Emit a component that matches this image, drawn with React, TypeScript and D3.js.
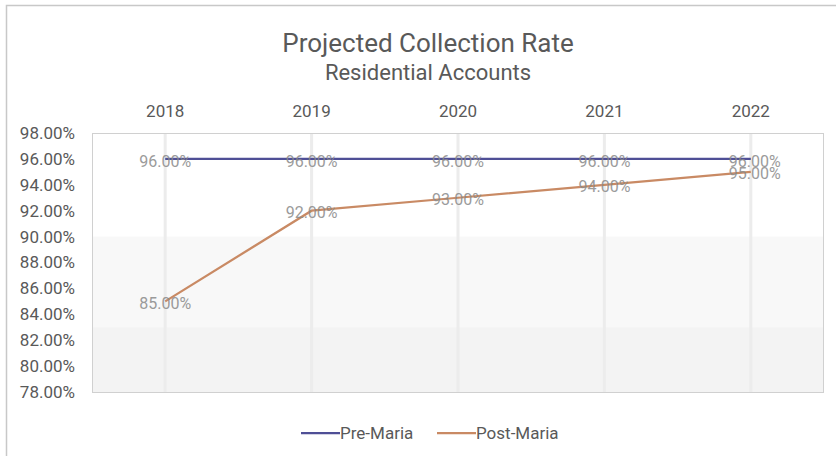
import React, { useEffect, useRef } from "react";
import * as d3 from "d3";

// chart values
const years = ["2018", "2019", "2020", "2021", "2022"];
const preMaria = [0.96, 0.96, 0.96, 0.96, 0.96];
const postMaria = [0.85, 0.92, 0.93, 0.94, 0.95];
const yTicks = [0.78, 0.8, 0.82, 0.84, 0.86, 0.88, 0.9, 0.92, 0.94, 0.96, 0.98];
const seriesNames = ["Pre-Maria", "Post-Maria"];
const seriesColors = ["#4f4f96", "#c98a64"];

const W = 836;
const H = 456;
const margin = { top: 133, right: 12, bottom: 64, left: 92 };
const FONT = "Roboto, 'Noto Sans', sans-serif";
const TEXT = "#595959";

function App() {
    const svgRef = useRef<SVGSVGElement | null>(null);

    useEffect(() => {
        const svg = d3.select(svgRef.current);
        svg.selectAll("*").remove();

        const x = d3
            .scaleBand()
            .domain(years)
            .range([margin.left, W - margin.right]);
        const cx = (d: string) => (x(d) as number) + x.bandwidth() / 2;

        const y = d3
            .scaleLinear()
            .domain([0.78, 0.98])
            .range([H - margin.bottom, margin.top]);

        const fmt = d3.format(".2%");

        // outer chart frame
        svg.append("rect")
            .attr("x", 6.5)
            .attr("y", 5.5)
            .attr("width", W + 10)
            .attr("height", H + 10)
            .attr("fill", "#ffffff")
            .attr("stroke", "#c8c8c8")
            .attr("stroke-width", 1.5);

        // plot area with the faint grey shading
        svg.append("rect")
            .attr("x", margin.left)
            .attr("y", y(0.9))
            .attr("width", W - margin.right - margin.left)
            .attr("height", y(0.78) - y(0.9))
            .attr("fill", "#f8f8f8");
        svg.append("rect")
            .attr("x", margin.left)
            .attr("y", y(0.83))
            .attr("width", W - margin.right - margin.left)
            .attr("height", y(0.78) - y(0.83))
            .attr("fill", "#f3f3f3");

        // faint vertical lines at categories
        svg.append("g")
            .selectAll("line")
            .data(years)
            .join("line")
            .attr("x1", (d) => cx(d))
            .attr("x2", (d) => cx(d))
            .attr("y1", y(0.98))
            .attr("y2", y(0.78))
            .attr("stroke", "#ececec")
            .attr("stroke-width", 3);

        svg.append("rect")
            .attr("x", margin.left + 0.5)
            .attr("y", y(0.98) + 0.5)
            .attr("width", W - margin.right - margin.left - 1)
            .attr("height", y(0.78) - y(0.98))
            .attr("fill", "none")
            .attr("stroke", "#d0d0d0")
            .attr("stroke-width", 1);

        // titles
        svg.append("text")
            .attr("x", 428)
            .attr("y", 52)
            .attr("text-anchor", "middle")
            .attr("font-family", FONT)
            .attr("font-size", 26)
            .attr("fill", TEXT)
            .text("Projected Collection Rate");
        svg.append("text")
            .attr("x", 428)
            .attr("y", 80)
            .attr("text-anchor", "middle")
            .attr("font-family", FONT)
            .attr("font-size", 22)
            .attr("fill", TEXT)
            .text("Residential Accounts");

        // category labels on top
        svg.append("g")
            .selectAll("text")
            .data(years)
            .join("text")
            .attr("x", (d) => cx(d))
            .attr("y", 117)
            .attr("text-anchor", "middle")
            .attr("font-family", FONT)
            .attr("font-size", 17)
            .attr("fill", TEXT)
            .text((d) => d);

        // value axis labels
        svg.append("g")
            .selectAll("text")
            .data(yTicks)
            .join("text")
            .attr("x", 75)
            .attr("y", (d) => y(d))
            .attr("dy", "0.35em")
            .attr("text-anchor", "end")
            .attr("font-family", FONT)
            .attr("font-size", 17)
            .attr("fill", TEXT)
            .text((d) => fmt(d));

        const line = d3
            .line<number>()
            .x((d, i) => cx(years[i]))
            .y((d) => y(d));

        [preMaria, postMaria].forEach((series, si) => {
            svg.append("path")
                .datum(series)
                .attr("d", line)
                .attr("fill", "none")
                .attr("stroke", seriesColors[si])
                .attr("stroke-width", 2.25);
        });

        // data labels centred on the points
        [preMaria, postMaria].forEach((series, si) => {
            svg.append("g")
                .selectAll("text")
                .data(series)
                .join("text")
                .attr("x", (d, i) => cx(years[i]) + (i === years.length - 1 ? 4 : 0))
                .attr("y", (d) => y(d) + 2)
                .attr("dy", "0.35em")
                .attr("text-anchor", "middle")
                .attr("font-family", FONT)
                .attr("font-size", 16)
                .attr("fill", "#8a8a8a")
                .attr("opacity", 0.85)
                .text((d) => fmt(d));
        });

        // legend
        const legend = svg.append("g");
        const legendX = [301, 437];
        seriesNames.forEach((name, i) => {
            legend.append("line")
                .attr("x1", legendX[i])
                .attr("x2", legendX[i] + 39)
                .attr("y1", 433)
                .attr("y2", 433)
                .attr("stroke", seriesColors[i])
                .attr("stroke-width", 2.25);
            legend.append("text")
                .attr("x", legendX[i] + 39)
                .attr("y", 433)
                .attr("dy", "0.35em")
                .attr("font-family", FONT)
                .attr("font-size", 17)
                .attr("fill", TEXT)
                .text(name);
        });
    }, []);

    return (
        <svg
            ref={svgRef}
            width={W}
            height={H}
            style={{ position: "absolute", left: 0, top: 0, background: "#fff" }}
        ></svg>
    );
}

export default App;
